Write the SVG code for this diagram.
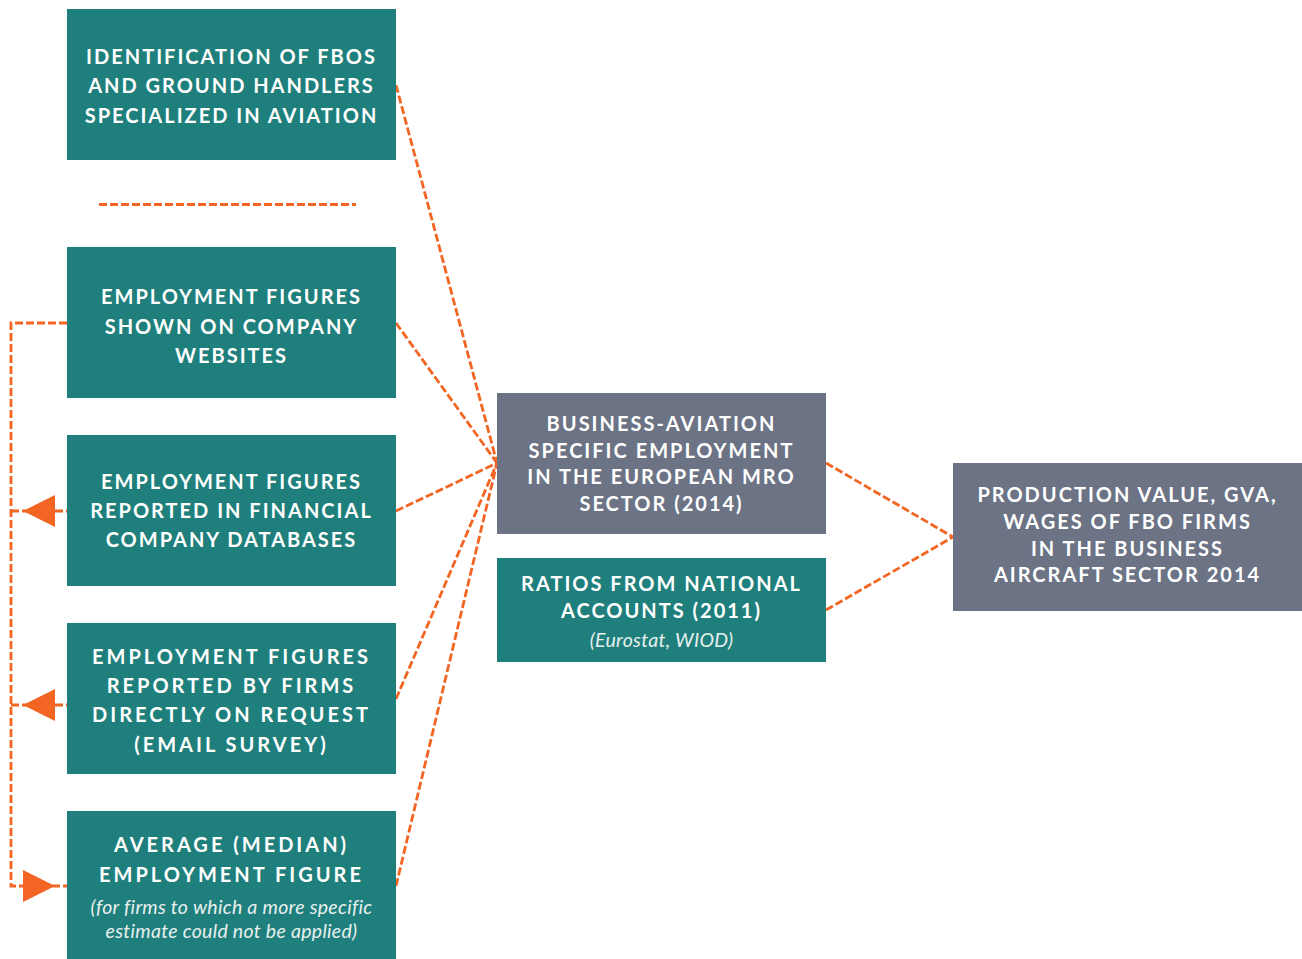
<svg xmlns="http://www.w3.org/2000/svg" width="1302" height="959" viewBox="0 0 1302 959">
<style>
.teal{fill:#1f7f7c}
.gray{fill:#6b7385}
.t{font-family:Lato,"Noto Sans",sans-serif;font-weight:bold;font-size:20px;fill:#fff;text-anchor:middle;letter-spacing:2px}
.w{letter-spacing:2px}
.x{letter-spacing:3px}
.i{font-family:Lato,"Noto Sans",sans-serif;font-style:italic;font-size:19.5px;fill:#e8f0ef;text-anchor:middle;letter-spacing:0.3px}
.c{fill:none;stroke:#f26522;stroke-width:2.8;stroke-dasharray:8,3}
</style>
<g id="connectors">
<line class="c" x1="99" y1="204.5" x2="356" y2="204.5"/>
<line class="c" x1="396" y1="85" x2="497" y2="463"/>
<line class="c" x1="396" y1="323" x2="497" y2="463"/>
<line class="c" x1="396" y1="511" x2="497" y2="463"/>
<line class="c" x1="396" y1="699" x2="497" y2="463"/>
<line class="c" x1="396" y1="886" x2="497" y2="463"/>
<line class="c" x1="826" y1="463" x2="953" y2="537"/>
<line class="c" x1="826" y1="610" x2="953" y2="537"/>
<polyline class="c" points="67,323 11,323 11,886 67,886"/>
<line class="c" x1="11" y1="511" x2="67" y2="511"/>
<line class="c" x1="11" y1="705" x2="67" y2="705"/>
<path d="M55,495 L23,511 L55,527 z" fill="#f26522"/>
<path d="M55,689 L23,705 L55,721 z" fill="#f26522"/>
<path d="M23,870 L55,886 L23,902 z" fill="#f26522"/>
</g>
<g id="n1">
<rect class="teal" x="67" y="9" width="329" height="151"/>
<text class="t" x="231.5" y="64">IDENTIFICATION OF FBOS</text>
<text class="t" x="231.5" y="93">AND GROUND HANDLERS</text>
<text class="t" x="231.5" y="123">SPECIALIZED IN AVIATION</text>
</g>
<g id="n2">
<rect class="teal" x="67" y="247" width="329" height="151"/>
<text class="t w" x="231.5" y="304">EMPLOYMENT FIGURES</text>
<text class="t w" x="231.5" y="334">SHOWN ON COMPANY</text>
<text class="t w" x="231.5" y="363">WEBSITES</text>
</g>
<g id="n3">
<rect class="teal" x="67" y="435" width="329" height="151"/>
<text class="t w" x="231.5" y="489">EMPLOYMENT FIGURES</text>
<text class="t w" x="231.5" y="518">REPORTED IN FINANCIAL</text>
<text class="t w" x="231.5" y="547">COMPANY DATABASES</text>
</g>
<g id="n4">
<rect class="teal" x="67" y="623" width="329" height="151"/>
<text class="t x" x="231.5" y="664">EMPLOYMENT FIGURES</text>
<text class="t x" x="231.5" y="693">REPORTED BY FIRMS</text>
<text class="t x" x="231.5" y="722">DIRECTLY ON REQUEST</text>
<text class="t x" x="231.5" y="752">(EMAIL SURVEY)</text>
</g>
<g id="n5">
<rect class="teal" x="67" y="811" width="329" height="148"/>
<text class="t x" x="231.5" y="852">AVERAGE (MEDIAN)</text>
<text class="t x" x="231.5" y="882">EMPLOYMENT FIGURE</text>
<text class="i" x="231.5" y="914">(for firms to which a more specific</text>
<text class="i" x="231.5" y="938">estimate could not be applied)</text>
</g>
<g id="m1">
<rect class="gray" x="497" y="393" width="329" height="141"/>
<text class="t" x="661.5" y="431">BUSINESS-AVIATION</text>
<text class="t" x="661.5" y="458">SPECIFIC EMPLOYMENT</text>
<text class="t" x="661.5" y="484">IN THE EUROPEAN MRO</text>
<text class="t" x="661.5" y="511">SECTOR (2014)</text>
</g>
<g id="m2">
<rect class="teal" x="497" y="558" width="329" height="104"/>
<text class="t" x="661.5" y="591">RATIOS FROM NATIONAL</text>
<text class="t" x="661.5" y="618">ACCOUNTS (2011)</text>
<text class="i" x="661.5" y="647">(Eurostat, WIOD)</text>
</g>
<g id="r1">
<rect class="gray" x="953" y="463" width="349" height="148"/>
<text class="t" x="1127.5" y="502">PRODUCTION VALUE, GVA,</text>
<text class="t" x="1127.5" y="529">WAGES OF FBO FIRMS</text>
<text class="t" x="1127.5" y="556">IN THE BUSINESS</text>
<text class="t" x="1127.5" y="582">AIRCRAFT SECTOR 2014</text>
</g>
</svg>
